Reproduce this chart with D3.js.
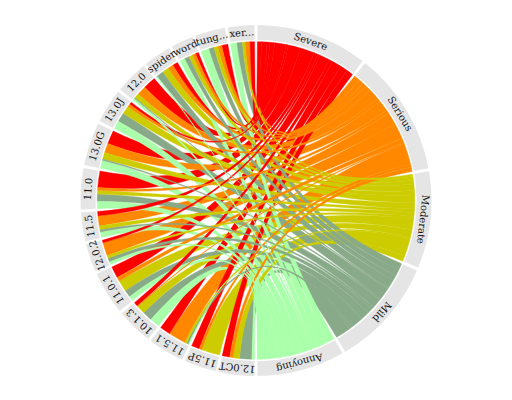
<!DOCTYPE html>
<html>
<head>
<meta charset="utf-8">
<script src="https://cdn.jsdelivr.net/npm/d3@7"></script>
<style>
body { margin: 0; background: #fff; }
text { font-family: "DejaVu Serif", serif; font-size: 10px; fill: #111; }
</style>
</head>
<body>
<div id="chart-area"></div>
<script>
// sectors, clockwise from the top
var targets = ['Severe', 'Serious', 'Moderate', 'Mild', 'Annoying'];
var targetTotals = [36.9, 41, 32, 36, 29];
var sources = ['12.0CT', '11.5P', '11.5.1', '10.1.3', '11.0.1', '12.0.2', '11.5', '11.0', '13.0G', '13.0J', '12.0', 'spider', 'word', 'tung...', 'xer...'];

// one list per target, same order as sources
var severe = [2.8, 3, 3.9, 1.6, 4.3, 1, 1.6, 6.1, 5, 1, 4.7, 2, 1.2, 2.3, 1.7];
var serious = [1.3, 1, 6.5, 0.3, 1.5, 5, 3.8, 1, 3.5, 1, 3.5, 1.9, 1.1, 1.5, 1.9];
var moderate = [2.3, 6.8, 0.7, 3.1, 4.3, 1, 1.5, 1.4, 2.5, 3, 1.8, 2.6, 1.6, 1.4, 0.9];
var mild = [4.6, 0, 0.8, 3.7, 2.6, 1.5, 0.7, 2.8, 0.5, 3.5, 0.3, 2.6, 1.6, 1.9, 2];
var annoying = [1, 0, 0.3, 3.6, 1.8, 1, 2.1, 2.6, 3, 3, 0.8, 0.3, 2, 3.1, 2.4];
var colors = ['#ff0000', '#ff8800', '#cccc00', '#88aa88', '#aaffaa'];

var matrix = [severe, serious, moderate, mild, annoying];

var width = 512, height = 400;
var cx = 256, cy = 200.5;
var outerR = 175.5, innerR = 160.5, chordR = 158.8;
var chordWidth = 0.68;
var pad = 1;

var svg = d3.select('#chart-area')
	.append('svg')
	.attr('width', width)
	.attr('height', height);

var graph = svg.append('g')
	.attr('transform', 'translate(' + cx + ',' + cy + ')');

//ANGLE SCALES (degrees clockwise from 12 o'clock)
var sourceTotal = d3.sum(sources, function (d, i) {
	return d3.sum(matrix, function (m) { return m[i]; });
});
var sourceScale = d3.scaleLinear()
	.domain([0, sourceTotal])
	.range([0, 180 - pad * sources.length]);

// target side has its own spans, each column is spread over its sector
var targetScale = d3.scaleLinear()
	.domain([0, d3.sum(targetTotals)])
	.range([0, 180 - pad * targets.length]);

var rad = function (deg) { return deg * Math.PI / 180; };
var px = function (r, deg) { return r * Math.sin(rad(deg)); };
var py = function (r, deg) { return -r * Math.cos(rad(deg)); };

//LAYOUT
var sectors = [];
var targetSpans = [];
var pos = pad / 2;
targets.forEach(function (name, t) {
	var w = targetScale(targetTotals[t]);
	sectors.push({ name: name, a0: pos, a1: pos + w });
	targetSpans.push({ a0: pos, a1: pos + w, total: d3.sum(matrix[t]) });
	pos += w + pad;
});

pos = 180 + pad / 2;
var sourceSpans = [];
sources.forEach(function (name, s) {
	var start = pos;
	var spans = [];
	// green first, red last going clockwise
	for (var t = targets.length - 1; t >= 0; t--) {
		var w = sourceScale(matrix[t][s]);
		spans[t] = { a0: pos, a1: pos + w };
		pos += w;
	}
	sourceSpans.push(spans);
	sectors.push({ name: name, a0: start, a1: pos });
	pos += pad;
});

// on the targets the nearest source comes first, so xer... then back to 12.0CT
var targetPos = targetSpans.map(function (d) { return d.a0; });
var ribbons = [];
for (var s = sources.length - 1; s >= 0; s--) {
	targets.forEach(function (name, t) {
		var w = matrix[t][s] / targetSpans[t].total * (targetSpans[t].a1 - targetSpans[t].a0);
		ribbons.push({
			value: matrix[t][s],
			a0: sourceSpans[s][t].a0,
			a1: sourceSpans[s][t].a1,
			b0: targetPos[t],
			b1: targetPos[t] + w,
			target: t
		});
		targetPos[t] += w;
	});
}
// big ribbons at the back, thin ones stay on top
ribbons.sort(function (a, b) { return b.value - a.value; });

function ribbonPath(d) {
	var r = chordR, rc = chordR * (1 - chordWidth);
	var p = d3.path();
	p.moveTo(px(r, d.a0), py(r, d.a0));
	p.arc(0, 0, r, rad(d.a0 - 90), rad(d.a1 - 90));
	p.bezierCurveTo(px(rc, d.a1), py(rc, d.a1), px(rc, d.b0), py(rc, d.b0), px(r, d.b0), py(r, d.b0));
	p.arc(0, 0, r, rad(d.b0 - 90), rad(d.b1 - 90));
	p.bezierCurveTo(px(rc, d.b1), py(rc, d.b1), px(rc, d.a0), py(rc, d.a0), px(r, d.a0), py(r, d.a0));
	p.closePath();
	return p.toString();
}

graph.selectAll('.ribbon')
	.data(ribbons.filter(function (d) { return d.value > 0; }))
	.enter()
	.append('path')
	.attr('class', 'ribbon')
	.attr('d', ribbonPath)
	.attr('fill', function (d) { return colors[d.target]; })
	.attr('stroke', function (d) { return colors[d.target]; })
	.attr('stroke-width', 0.4);

//OUTER RING
var ring = d3.arc()
	.innerRadius(innerR)
	.outerRadius(outerR)
	.startAngle(function (d) { return rad(d.a0); })
	.endAngle(function (d) { return rad(d.a1); });

graph.selectAll('.ring')
	.data(sectors)
	.enter()
	.append('path')
	.attr('class', 'ring')
	.attr('d', ring)
	.attr('fill', '#e5e5e5');

//LABELS
graph.selectAll('.label')
	.data(sectors)
	.enter()
	.append('text')
	.attr('class', 'label')
	.attr('text-anchor', 'middle')
	.attr('dy', '0.32em')
	.attr('transform', function (d) {
		var m = (d.a0 + d.a1) / 2;
		return 'translate(' + px(168, m) + ',' + py(168, m) + ') rotate(' + m + ')';
	})
	.text(function (d) { return d.name; });
</script>
</body>
</html>
